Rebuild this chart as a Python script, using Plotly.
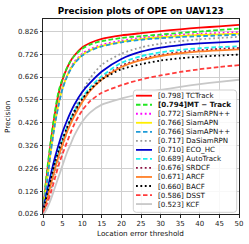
import plotly.graph_objects as go

# ---------------- data ----------------
thresholds = [0, 1, 2, 3, 4, 5, 6, 7, 8, 10, 12, 15, 20, 25, 30, 35, 40, 45, 50]

tctrack   = [0.045, 0.20, 0.34, 0.46, 0.555, 0.615, 0.66, 0.695, 0.72, 0.755, 0.775, 0.793, 0.808, 0.818, 0.827, 0.835, 0.842, 0.848, 0.854]
mttrack   = [0.05, 0.21, 0.35, 0.47, 0.565, 0.62, 0.662, 0.695, 0.718, 0.75, 0.768, 0.783, 0.797, 0.805, 0.812, 0.819, 0.825, 0.832, 0.838]
siamrpnpp = [0.04, 0.17, 0.30, 0.42, 0.51, 0.58, 0.628, 0.665, 0.692, 0.728, 0.748, 0.767, 0.785, 0.797, 0.805, 0.811, 0.815, 0.819, 0.822]
siamapn   = [0.04, 0.17, 0.305, 0.42, 0.51, 0.578, 0.625, 0.66, 0.687, 0.722, 0.743, 0.762, 0.78, 0.792, 0.80, 0.806, 0.81, 0.813, 0.816]
siamapnpp = [0.04, 0.165, 0.30, 0.415, 0.505, 0.575, 0.622, 0.658, 0.685, 0.72, 0.741, 0.76, 0.778, 0.789, 0.796, 0.801, 0.805, 0.808, 0.811]
dasiamrpn = [0.03, 0.07, 0.13, 0.20, 0.26, 0.32, 0.38, 0.43, 0.48, 0.56, 0.62, 0.68, 0.728, 0.756, 0.772, 0.783, 0.791, 0.797, 0.802]
eco_hc    = [0.04, 0.12, 0.20, 0.27, 0.33, 0.385, 0.43, 0.47, 0.505, 0.56, 0.60, 0.65, 0.705, 0.737, 0.755, 0.766, 0.773, 0.778, 0.782]
autotrack = [0.035, 0.10, 0.17, 0.24, 0.30, 0.35, 0.40, 0.44, 0.475, 0.535, 0.58, 0.63, 0.688, 0.717, 0.734, 0.745, 0.752, 0.757, 0.76]
srdcf     = [0.03, 0.09, 0.16, 0.23, 0.29, 0.34, 0.39, 0.43, 0.465, 0.525, 0.57, 0.62, 0.675, 0.705, 0.723, 0.735, 0.743, 0.749, 0.753]
arcf      = [0.03, 0.09, 0.155, 0.22, 0.28, 0.33, 0.38, 0.42, 0.455, 0.515, 0.565, 0.615, 0.67, 0.70, 0.718, 0.73, 0.738, 0.743, 0.747]
bacf      = [0.035, 0.11, 0.18, 0.25, 0.305, 0.355, 0.40, 0.44, 0.475, 0.53, 0.57, 0.615, 0.66, 0.682, 0.698, 0.708, 0.715, 0.72, 0.724]
dsst      = [0.03, 0.07, 0.12, 0.18, 0.24, 0.29, 0.335, 0.38, 0.42, 0.48, 0.52, 0.557, 0.59, 0.615, 0.633, 0.648, 0.66, 0.67, 0.678]
kcf       = [0.02, 0.05, 0.09, 0.14, 0.19, 0.24, 0.29, 0.33, 0.37, 0.43, 0.47, 0.505, 0.532, 0.552, 0.569, 0.583, 0.595, 0.605, 0.614]

tracker_names = ["TCTrack", "MT − Track", "SiamRPN++", "SiamAPN", "SiamAPN++", "DaSiamRPN",
                 "ECO_HC", "AutoTrack", "SRDCF", "ARCF", "BACF", "DSST", "KCF"]
scores = [0.798, 0.794, 0.772, 0.766, 0.766, 0.717, 0.710, 0.689, 0.676, 0.671, 0.660, 0.586, 0.523]
series = [tctrack, mttrack, siamrpnpp, siamapn, siamapnpp, dasiamrpn, eco_hc, autotrack, srdcf, arcf, bacf, dsst, kcf]

y_ticks = [0.026, 0.126, 0.226, 0.326, 0.426, 0.526, 0.626, 0.726, 0.826]
x_ticks = [0, 5, 10, 15, 20, 25, 30, 35, 40, 45, 50]

# ---------------- styles ----------------
DASH = "4.5px,2.5px"
DOT = "1.8px,2.6px"
styles = [
    ("#FF0000", "solid"),
    ("#22E622", DASH),
    ("#FF00FF", DOT),
    ("#FFEE00", "solid"),
    ("#1E9BD7", DASH),
    ("#9A9A9A", DOT),
    ("#0000CC", "solid"),
    ("#1FEFEF", DASH),
    ("#8B1040", DOT),
    ("#FF7F27", "solid"),
    ("#000000", DOT),
    ("#FF3B3B", DASH),
    ("#C8C8C8", "solid"),
]

W, H = 249, 244
L, R, T, B = 43, 239, 19, 214
FONT = "DejaVu Sans"


def xp(px):
    return (px - L) / (R - L)


def yp(py):
    return (B - py) / (B - T)


fig = go.Figure()
for name, vals, (col, dash) in zip(tracker_names, series, styles):
    fig.add_trace(go.Scatter(
        x=thresholds, y=vals, mode="lines", name=name,
        line=dict(color=col, width=1.8, dash=dash, shape="spline", smoothing=0.7),
        showlegend=False,
    ))

# ---------------- custom legend ----------------
shapes = []
annotations = []
bx0, bx1, by0, by1 = 133.3, 236.7, 90.0, 212.3
r = 3.0
rx, ry = r / (R - L), r / (B - T)
X0, X1, Y0, Y1 = xp(bx0), xp(bx1), yp(by1), yp(by0)
path = (f"M {X0+rx},{Y0} L {X1-rx},{Y0} Q {X1},{Y0} {X1},{Y0+ry} "
        f"L {X1},{Y1-ry} Q {X1},{Y1} {X1-rx},{Y1} L {X0+rx},{Y1} "
        f"Q {X0},{Y1} {X0},{Y1-ry} L {X0},{Y0+ry} Q {X0},{Y0} {X0+rx},{Y0} Z")
shapes.append(dict(type="path", xref="paper", yref="paper", path=path,
                   line=dict(color="#D0D0D0", width=1), fillcolor="rgba(255,255,255,0.85)"))

row0, step = 95.7, 9.03
for i, (name, sc, (col, dash)) in enumerate(zip(tracker_names, scores, styles)):
    yy = yp(row0 + i * step)
    shapes.append(dict(type="line", xref="paper", yref="paper",
                       x0=xp(136.0), x1=xp(152.0), y0=yy, y1=yy,
                       line=dict(color=col, width=1.8, dash=dash)))
    if i == 1:
        label = f"<b>[{sc:.3f}]{name}</b>"
    else:
        label = f"[{sc:.3f}] {name}"
    annotations.append(dict(xref="paper", yref="paper", x=xp(155.5), y=yy,
                            xanchor="left", yanchor="middle", showarrow=False,
                            text=label, font=dict(family=FONT, size=7.1, color="#111")))

# axis titles
annotations.append(dict(xref="paper", yref="paper", x=xp(140.7), y=yp(233.5),
                        xanchor="center", yanchor="middle", showarrow=False,
                        text="Location error threshold",
                        font=dict(family=FONT, size=7.25, color="#111")))
annotations.append(dict(xref="paper", yref="paper", x=xp(7.3), y=yp(116.7),
                        xanchor="center", yanchor="middle", showarrow=False, textangle=-90,
                        text="Precision", font=dict(family=FONT, size=7.25, color="#111")))

fig.update_layout(
    template="none",
    width=W, height=H,
    margin=dict(l=L, r=W - R, t=T, b=H - B, pad=0, autoexpand=False),
    paper_bgcolor="white", plot_bgcolor="white",
    title=dict(text="<b>Precision plots of OPE on UAV123</b>", x=xp(140.7), xref="paper",
               xanchor="center", y=1 - 10.5 / H, yref="container", yanchor="middle",
               font=dict(family=FONT, size=8.8, color="#000")),
    shapes=shapes, annotations=annotations,
    showlegend=False,
)
fig.update_xaxes(range=[0, 50], tickvals=x_ticks, ticktext=[str(v) for v in x_ticks],
                 automargin=False,
                 showgrid=True, gridcolor="#CFCFCF", gridwidth=1, zeroline=False,
                 showline=True, linecolor="#222", linewidth=1, mirror=True,
                 ticks="outside", ticklen=2.5, tickwidth=1, tickcolor="#222",
                 tickfont=dict(family=FONT, size=7, color="#222"))
fig.update_yaxes(range=[0.026, 0.880], tickvals=y_ticks, ticktext=[f"{v:.3f}" for v in y_ticks],
                 automargin=False,
                 showgrid=True, gridcolor="#CFCFCF", gridwidth=1, zeroline=False,
                 showline=True, linecolor="#222", linewidth=1, mirror=True,
                 ticks="outside", ticklen=2.5, tickwidth=1, tickcolor="#222",
                 tickfont=dict(family=FONT, size=7, color="#222"))

fig.write_html("out.html", config={"displayModeBar": False},
               post_script="document.body.style.margin='0px';document.body.style.padding='0px';")
